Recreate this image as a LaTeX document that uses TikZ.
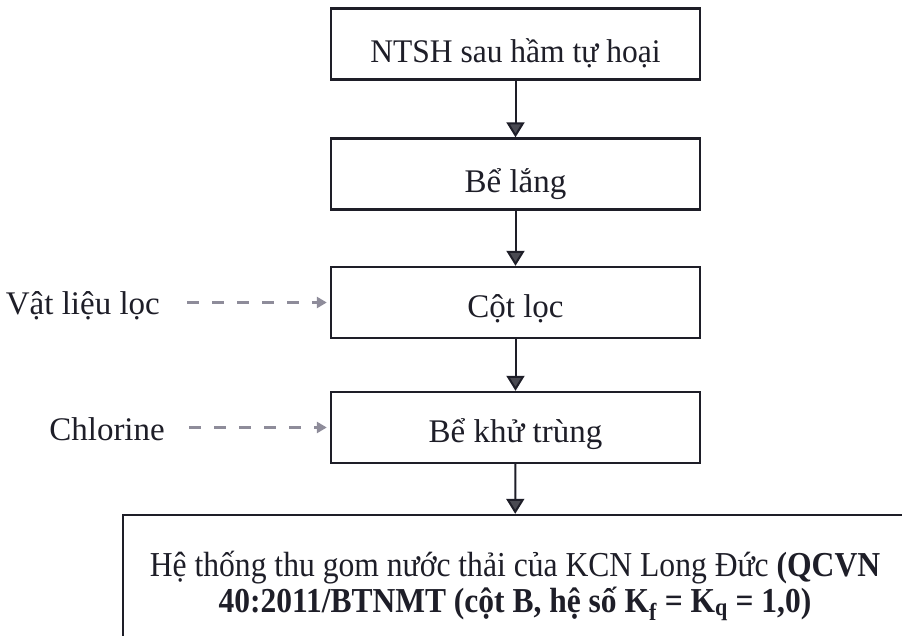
\documentclass[tikz,border=0pt]{standalone}
\usepackage{fontspec}
\setmainfont{Liberation Serif}
\usetikzlibrary{arrows.meta}
\definecolor{ink}{HTML}{1E1E28}
\definecolor{tipgray}{HTML}{4A4A52}
\definecolor{feedgray}{HTML}{8E8C9A}
\newcommand{\tightlines}{\lineskiplimit=-40pt\relax}
\begin{document}
\begin{tikzpicture}[x=1pt,y=1pt,
  stage/.style={draw=ink, line width=2.4pt, minimum width=369pt, minimum height=71pt,
    inner sep=0pt, text=ink, font=\fontsize{33}{40}\selectfont,
    text height=30pt, text depth=0pt},
  flow/.style={draw=ink, line width=2pt,
    -{Triangle[width=18pt,length=15pt,fill=tipgray]}},
  feed/.style={draw=feedgray, line width=3.5pt, dash pattern=on 12pt off 13pt,
    -{Triangle[width=11pt,length=10pt,fill=feedgray]}},
  sidetext/.style={text=ink, font=\fontsize{33}{40}\selectfont, inner sep=0pt, anchor=base east}
]
\clip (0,0) rectangle (902,-636);
\fill[white] (0,0) rectangle (902,-636);

% treatment stages
\node[stage, text height=37pt] (ntsh) at (515.5,-44)
  {\scalebox{0.955}[1]{NTSH sau hầm tự hoại}\hspace{14pt}};
\node[stage, text height=37pt] (lang) at (515.5,-174) {Bể lắng};
\node[stage] (loc) at (515.5,-302.5) {Cột lọc};
\node[stage] (khu) at (515.5,-427.5) {Bể khử trùng};

% receiving sewer system
\node[draw=ink, line width=2.4pt, minimum width=784pt, minimum height=142pt,
  inner sep=0pt, text=ink, align=center,
  font=\fontsize{35}{36}\selectfont\tightlines]
  (kcn) at (515,-586)
  {\scalebox{0.903}[1]{Hệ thống thu gom nước thải của KCN Long Đức \textbf{(QCVN}}\\
   \scalebox{0.9}[1]{\textbf{40:2011/BTNMT (cột B, hệ số K\textsubscript{f} = K\textsubscript{q} = 1,0)}}};

% chemicals and media fed from the side
\node[sidetext] (vat) at (160,-315) {Vật liệu lọc};
\node[sidetext] (chl) at (165,-440) {Chlorine};

% main flow
\draw[flow] (ntsh) -- (lang);
\draw[flow] (lang) -- (loc);
\draw[flow] (loc) -- (khu);
\draw[flow] (khu) -- (kcn);

% side inputs
\draw[feed, shorten <=27pt, shorten >=3pt] (vat.east |- loc) -- (loc.west);
\draw[feed, shorten <=24pt, shorten >=3pt] (chl.east |- khu) -- (khu.west);
\end{tikzpicture}
\end{document}
